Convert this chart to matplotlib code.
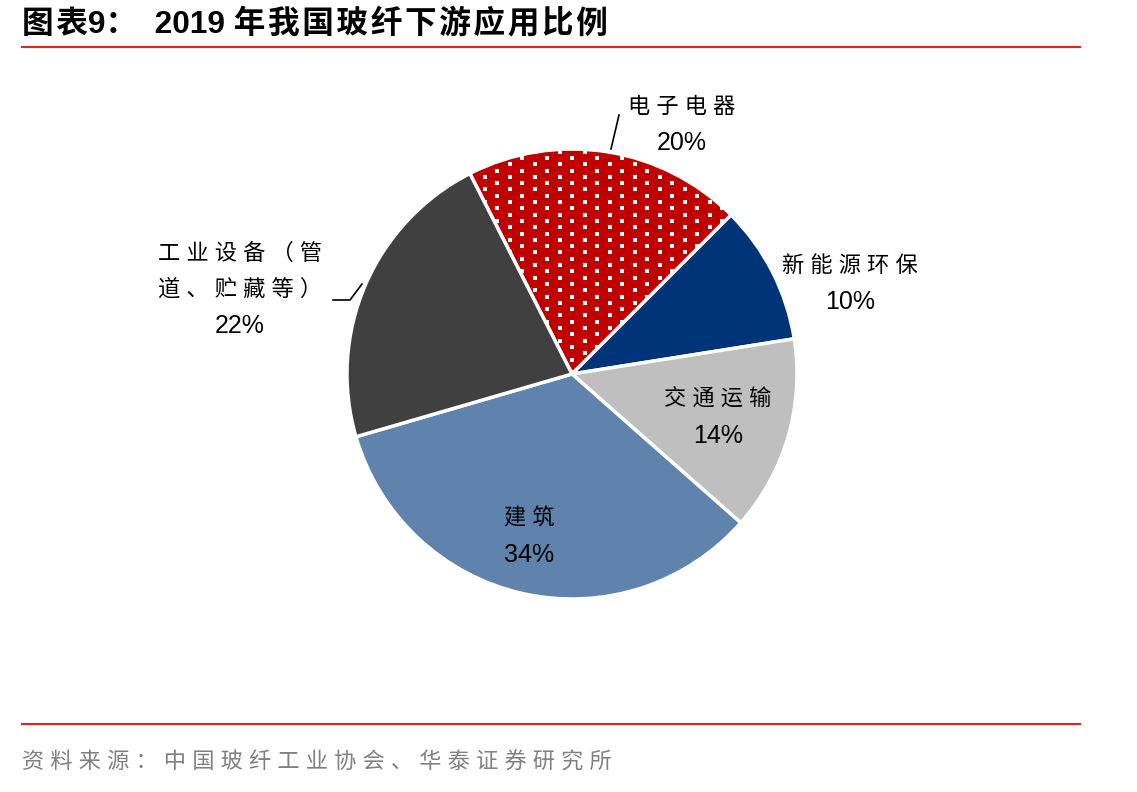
import numpy as np
import matplotlib.pyplot as plt

plt.rcParams['font.family'] = ['Liberation Sans', 'Noto Sans CJK SC', 'DejaVu Sans']

# data
labels = ['电子电器', '新能源环保', '交通运输', '建筑', '工业设备（管\n道、贮藏等）']
shares = [20, 10, 14, 34, 22]
colors = ['#C00000', '#003478', '#BFBFBF', '#5F83AC', '#404040']
title = '图表9：  2019 年我国玻纤下游应用比例'
source = '资料来源：中国玻纤工业协会、华泰证券研究所'


def spaced(s, gap=' '):
    # the original text is set with letter spacing between CJK characters
    out = ''
    for i, ch in enumerate(s):
        out += ch
        if i + 1 < len(s) and ord(ch) > 127 and ord(s[i + 1]) > 127:
            out += gap
    return out


W, H = 1137, 792
fig = plt.figure(figsize=(W / 100, H / 100), dpi=100)
ax = fig.add_axes([0, 0, 1, 1])

cx, cy, r = 572, H - 374, 225
wedges, _ = ax.pie(shares, colors=colors, startangle=117, counterclock=False,
                   center=(cx, cy), radius=r, frame=True,
                   wedgeprops=dict(edgecolor='white', linewidth=2.5))
ax.set_xlim(0, W)
ax.set_ylim(0, H)
ax.set_aspect('equal')
ax.axis('off')

# dotted fill pattern on the first wedge (staggered white squares)
rows = np.arange(cy - r, cy + r, 6.3)
px, py = [], []
for k, yy in enumerate(rows):
    off = 12.5 * (k % 2)
    xs = np.arange(cx - r - 25 + off, cx + r + 25, 25)
    px.extend(xs)
    py.extend([yy] * len(xs))
dots = ax.scatter(px, py, s=7, marker='s', color='white', linewidths=0, zorder=3)
dots.set_clip_path(wedges[0])

# labels (name + percent)
pos = [(682, 107), (850, 266), (718, 400), (529, 519), (240, 272)]
for (lx, ly), lab, s in zip(pos, labels, shares):
    if '\n' in lab:
        l1, l2 = lab.split('\n')
        ax.text(lx, H - (ly - 18), spaced(l1), ha='center', va='center', fontsize=16)
        ax.text(lx, H - (ly + 18), spaced(l2), ha='center', va='center', fontsize=16)
        ax.text(lx, H - (ly + 54), f'{s}%', ha='center', va='center', fontsize=18)
    else:
        ax.text(lx, H - ly, spaced(lab), ha='center', va='center', fontsize=16)
        ax.text(lx, H - (ly + 36), f'{s}%', ha='center', va='center', fontsize=18)

# leader lines
ax.plot([611, 619], [H - 149, H - 115], color='black', lw=1.2)
ax.plot([333, 350, 362], [H - 300, H - 300, H - 284], color='black', lw=1.2)

# header / footer
fig.text(22 / W, 1 - 24 / H, spaced(title, '\u200a'), fontsize=22.8, fontweight='bold',
         va='center', ha='left')
fig.add_artist(plt.Line2D([22 / W, 1080 / W], [1 - 47 / H] * 2, color='#E8231A', lw=1.5))
fig.add_artist(plt.Line2D([22 / W, 1080 / W], [1 - 724 / H] * 2, color='#E8231A', lw=1.5))
fig.text(22 / W, 1 - 763 / H, spaced(source), fontsize=16, color='#808080', va='center', ha='left')

plt.savefig('out.png', dpi=100)
